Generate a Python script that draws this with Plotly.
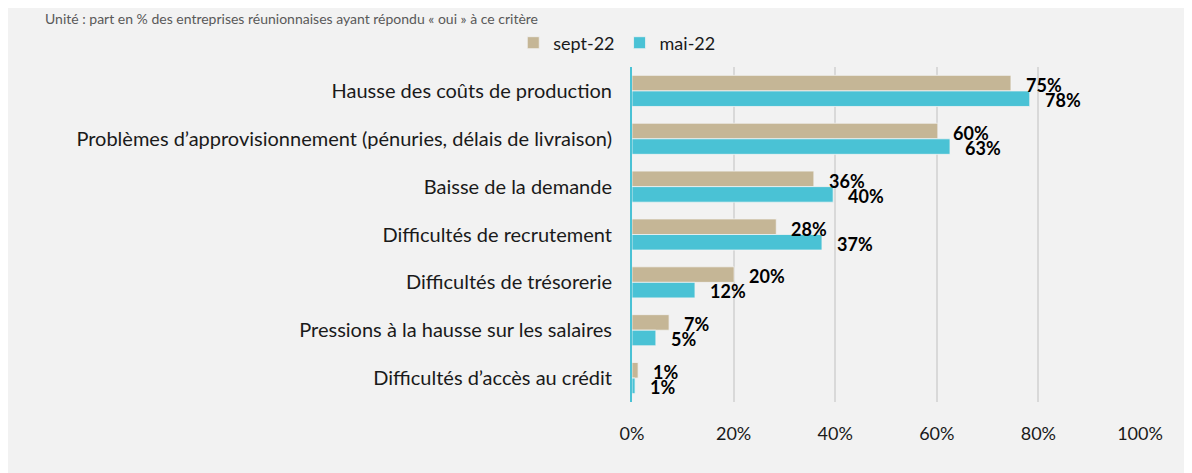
import plotly.graph_objects as go

categories = [
    "Hausse des coûts de production",
    "Problèmes d’approvisionnement (pénuries, délais de livraison)",
    "Baisse de la demande",
    "Difficultés de recrutement",
    "Difficultés de trésorerie",
    "Pressions à la hausse sur les salaires",
    "Difficultés d’accès au crédit",
]
sept22 = [74.6, 60.2, 35.8, 28.4, 20.1, 7.3, 1.2]
mai22 = [78.3, 62.6, 39.6, 37.4, 12.4, 4.7, 0.6]
series_names = ["sept-22", "mai-22"]
tick_vals = [0, 20, 40, 60, 80, 100]
tick_text = ["0%", "20%", "40%", "60%", "80%", "100%"]
subtitle = "Unité : part en % des entreprises réunionnaises ayant répondu « oui » à ce critère"

TAN = "#c5b696"
CYAN = "#4ac2d5"
FONT = "Lato"
TXT = "#1a1a1a"

fig = go.Figure()
fig.add_trace(go.Bar(y=categories, x=sept22, name=series_names[0], orientation="h",
                     marker=dict(color=TAN, line=dict(color="#f2f2f2", width=0.8))))
fig.add_trace(go.Bar(y=categories, x=mai22, name=series_names[1], orientation="h",
                     marker=dict(color=CYAN, line=dict(color="#f2f2f2", width=0.8))))

annotations = []
for cat, v in zip(categories, sept22):
    annotations.append(dict(x=v, y=cat, xref="x", yref="y", text=f"<b>{round(v):.0f}%</b>",
                            showarrow=False, xanchor="left", yanchor="middle",
                            xshift=13, yshift=6, font=dict(family=FONT, size=18, color="black")))
for cat, v in zip(categories, mai22):
    annotations.append(dict(x=v, y=cat, xref="x", yref="y", text=f"<b>{max(1, round(v)):.0f}%</b>",
                            showarrow=False, xanchor="left", yanchor="middle",
                            xshift=13, yshift=-9, font=dict(family=FONT, size=18, color="black")))
annotations.append(dict(x=-1.16, y=1.176, xref="paper", yref="paper", text=subtitle,
                        showarrow=False, xanchor="left", yanchor="top",
                        font=dict(family=FONT, size=14, color="#595959")))

fig.update_layout(
    width=1192, height=473,
    margin=dict(l=624, r=60, t=59, b=79, autoexpand=False),
    paper_bgcolor="#f2f2f2", plot_bgcolor="rgba(0,0,0,0)",
    barmode="group", bargap=0.35, bargroupgap=0,
    font=dict(family=FONT, size=18, color=TXT),
    showlegend=True,
    legend=dict(orientation="h", x=-0.03, xanchor="center",
                y=1.0716, yanchor="middle",
                font=dict(family=FONT, size=18, color=TXT),
                bgcolor="rgba(0,0,0,0)", traceorder="normal"),
    annotations=annotations,
)
fig.update_xaxes(range=[0, 100], tickvals=tick_vals, ticktext=tick_text, automargin=False,
                 showgrid=True, gridcolor="#d9d9d9", gridwidth=1.5, zeroline=False,
                 showline=False, ticks="outside", ticklen=15, tickcolor="rgba(0,0,0,0)",
                 tickfont=dict(family=FONT, size=18, color=TXT))
fig.update_yaxes(categoryorder="array", categoryarray=categories, autorange="reversed",
                 automargin=False,
                 showline=True, linecolor=CYAN, linewidth=2, showgrid=False,
                 ticks="outside", ticklen=14, tickcolor="rgba(0,0,0,0)",
                 tickfont=dict(family=FONT, size=20, color=TXT))

fig.write_html("out.html")
